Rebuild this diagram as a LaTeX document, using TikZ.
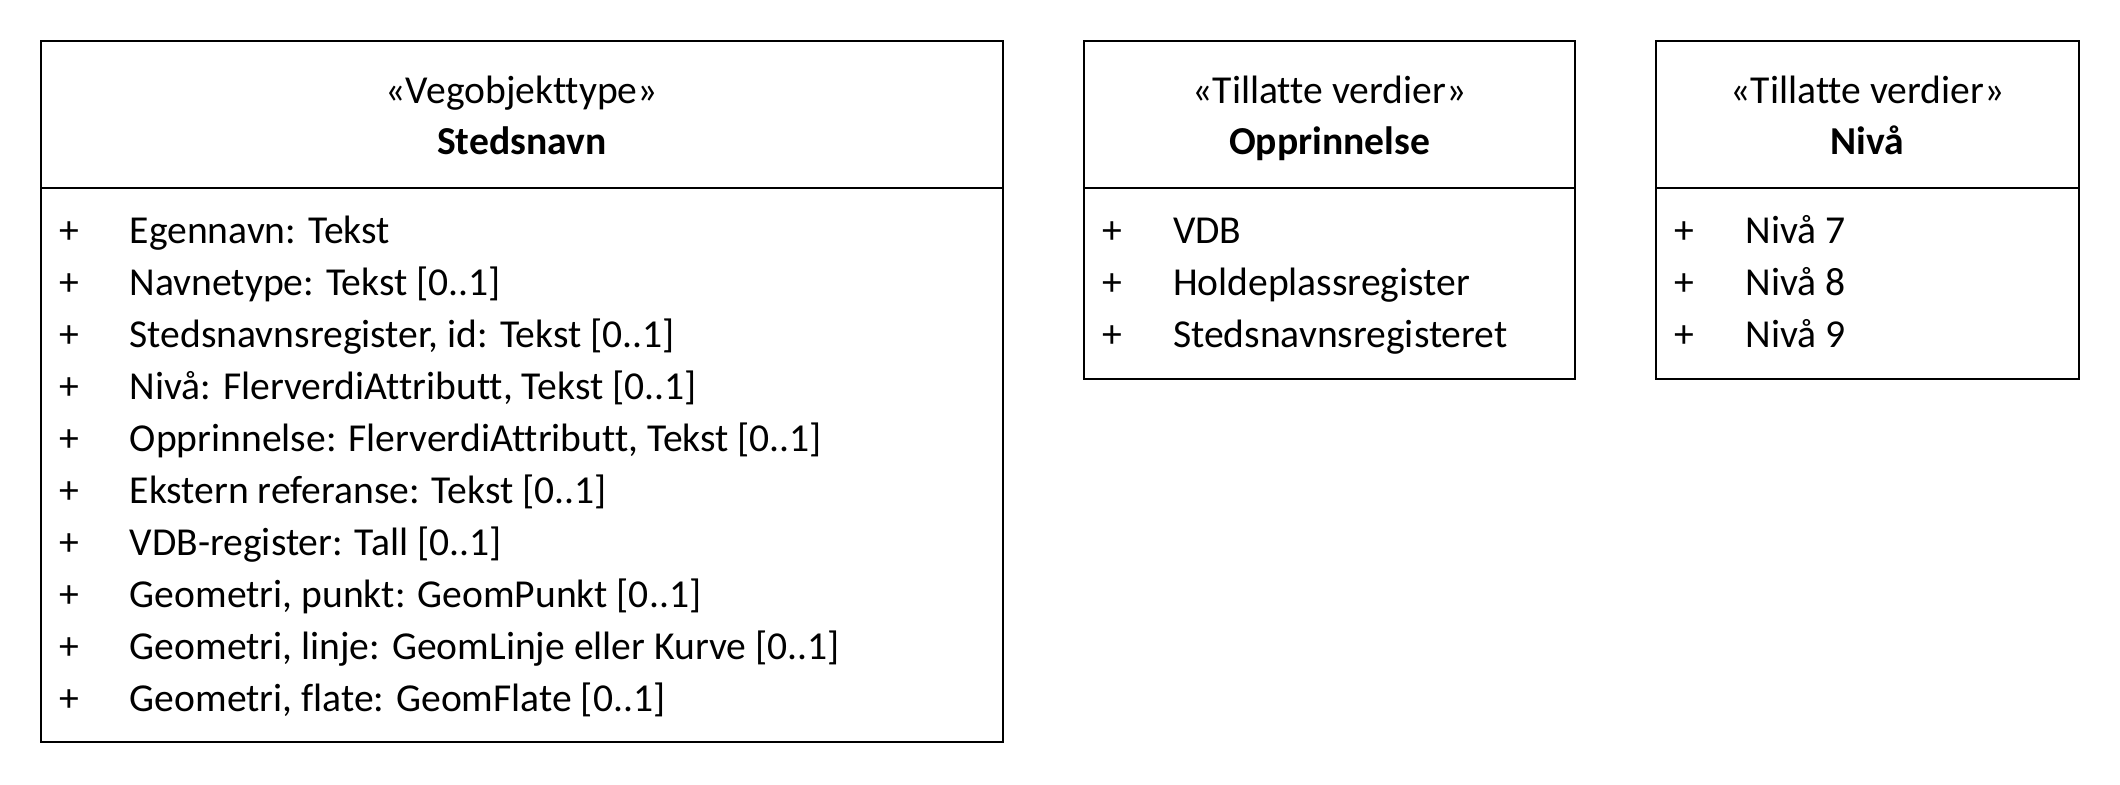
\documentclass[tikz,border=0pt]{standalone}
\usepackage{fontspec}
\setmainfont{Carlito}[Ligatures=CommonOff]
\usepackage{tikz}

\begin{document}
\begin{tikzpicture}[x=0.5pt,y=-0.5pt,line width=1pt,
  txt/.style={inner sep=0pt,anchor=base},
  attr/.style={inner sep=0pt,anchor=base west},
  font=\fontsize{19.8}{24}\selectfont]

\def\h{52.1} \def\yo{243} \def\top{40.6} \def\sep{188}
\useasboundingbox (0,0) rectangle (2120,784);

\begin{scope} %Stedsnavn
 \draw (40.6,\top) rectangle (1003,742);
 \draw (40.6,\sep) -- (1003,\sep);
 \node[txt] (sted-st) at (521.8,103) {«Vegobjekttype»};
 \node[txt,font=\fontsize{19.8}{24}\selectfont\bfseries] (sted-nm) at (521.8,154.7) {Stedsnavn};
 \foreach \a [count=\i from 0] in {{Egennavn: Tekst},{Navnetype: Tekst [0..1]},
   {Stedsnavnsregister, id: Tekst [0..1]},{Nivå: FlerverdiAttributt, Tekst [0..1]},
   {Opprinnelse: FlerverdiAttributt, Tekst [0..1]},{Ekstern referanse: Tekst [0..1]},
   {VDB-register: Tall [0..1]},{Geometri, punkt: GeomPunkt [0..1]},
   {Geometri, linje: GeomLinje eller Kurve [0..1]},{Geometri, flate: GeomFlate [0..1]}}
 {
  \node[txt] (sted-p\i) at (69,\yo+\i*\h) {+};
  \node[attr] (sted-a\i) at (128.8,\yo+\i*\h) {\a};
 }
\end{scope}

\begin{scope}[shift={(1043.4,0)}] %Opprinnelse
 \draw (40.6,\top) rectangle (531.6,379);
 \draw (40.6,\sep) -- (531.6,\sep);
 \node[txt] (opp-st) at (286.1,103) {«Tillatte verdier»};
 \node[txt,font=\fontsize{19.8}{24}\selectfont\bfseries] (opp-nm) at (286.1,154.7) {Opprinnelse};
 \foreach \a [count=\i from 0] in {VDB,Holdeplassregister,Stedsnavnsregisteret}
 {
  \node[txt] (opp-p\i) at (69,\yo+\i*\h) {+};
  \node[attr] (opp-a\i) at (128.6,\yo+\i*\h) {\a};
 }
\end{scope}

\begin{scope}[shift={(1615.4,0)}] %Nivaa
 \draw (40.6,\top) rectangle (463.6,379);
 \draw (40.6,\sep) -- (463.6,\sep);
 \node[txt] (niv-st) at (252.1,103) {«Tillatte verdier»};
 \node[txt,font=\fontsize{19.8}{24}\selectfont\bfseries] (niv-nm) at (252.1,154.7) {Nivå};
 \foreach \a [count=\i from 0] in {Nivå 7,Nivå 8,Nivå 9}
 {
  \node[txt] (niv-p\i) at (69,\yo+\i*\h) {+};
  \node[attr] (niv-a\i) at (129,\yo+\i*\h) {\a};
 }
\end{scope}

\end{tikzpicture}
\end{document}
